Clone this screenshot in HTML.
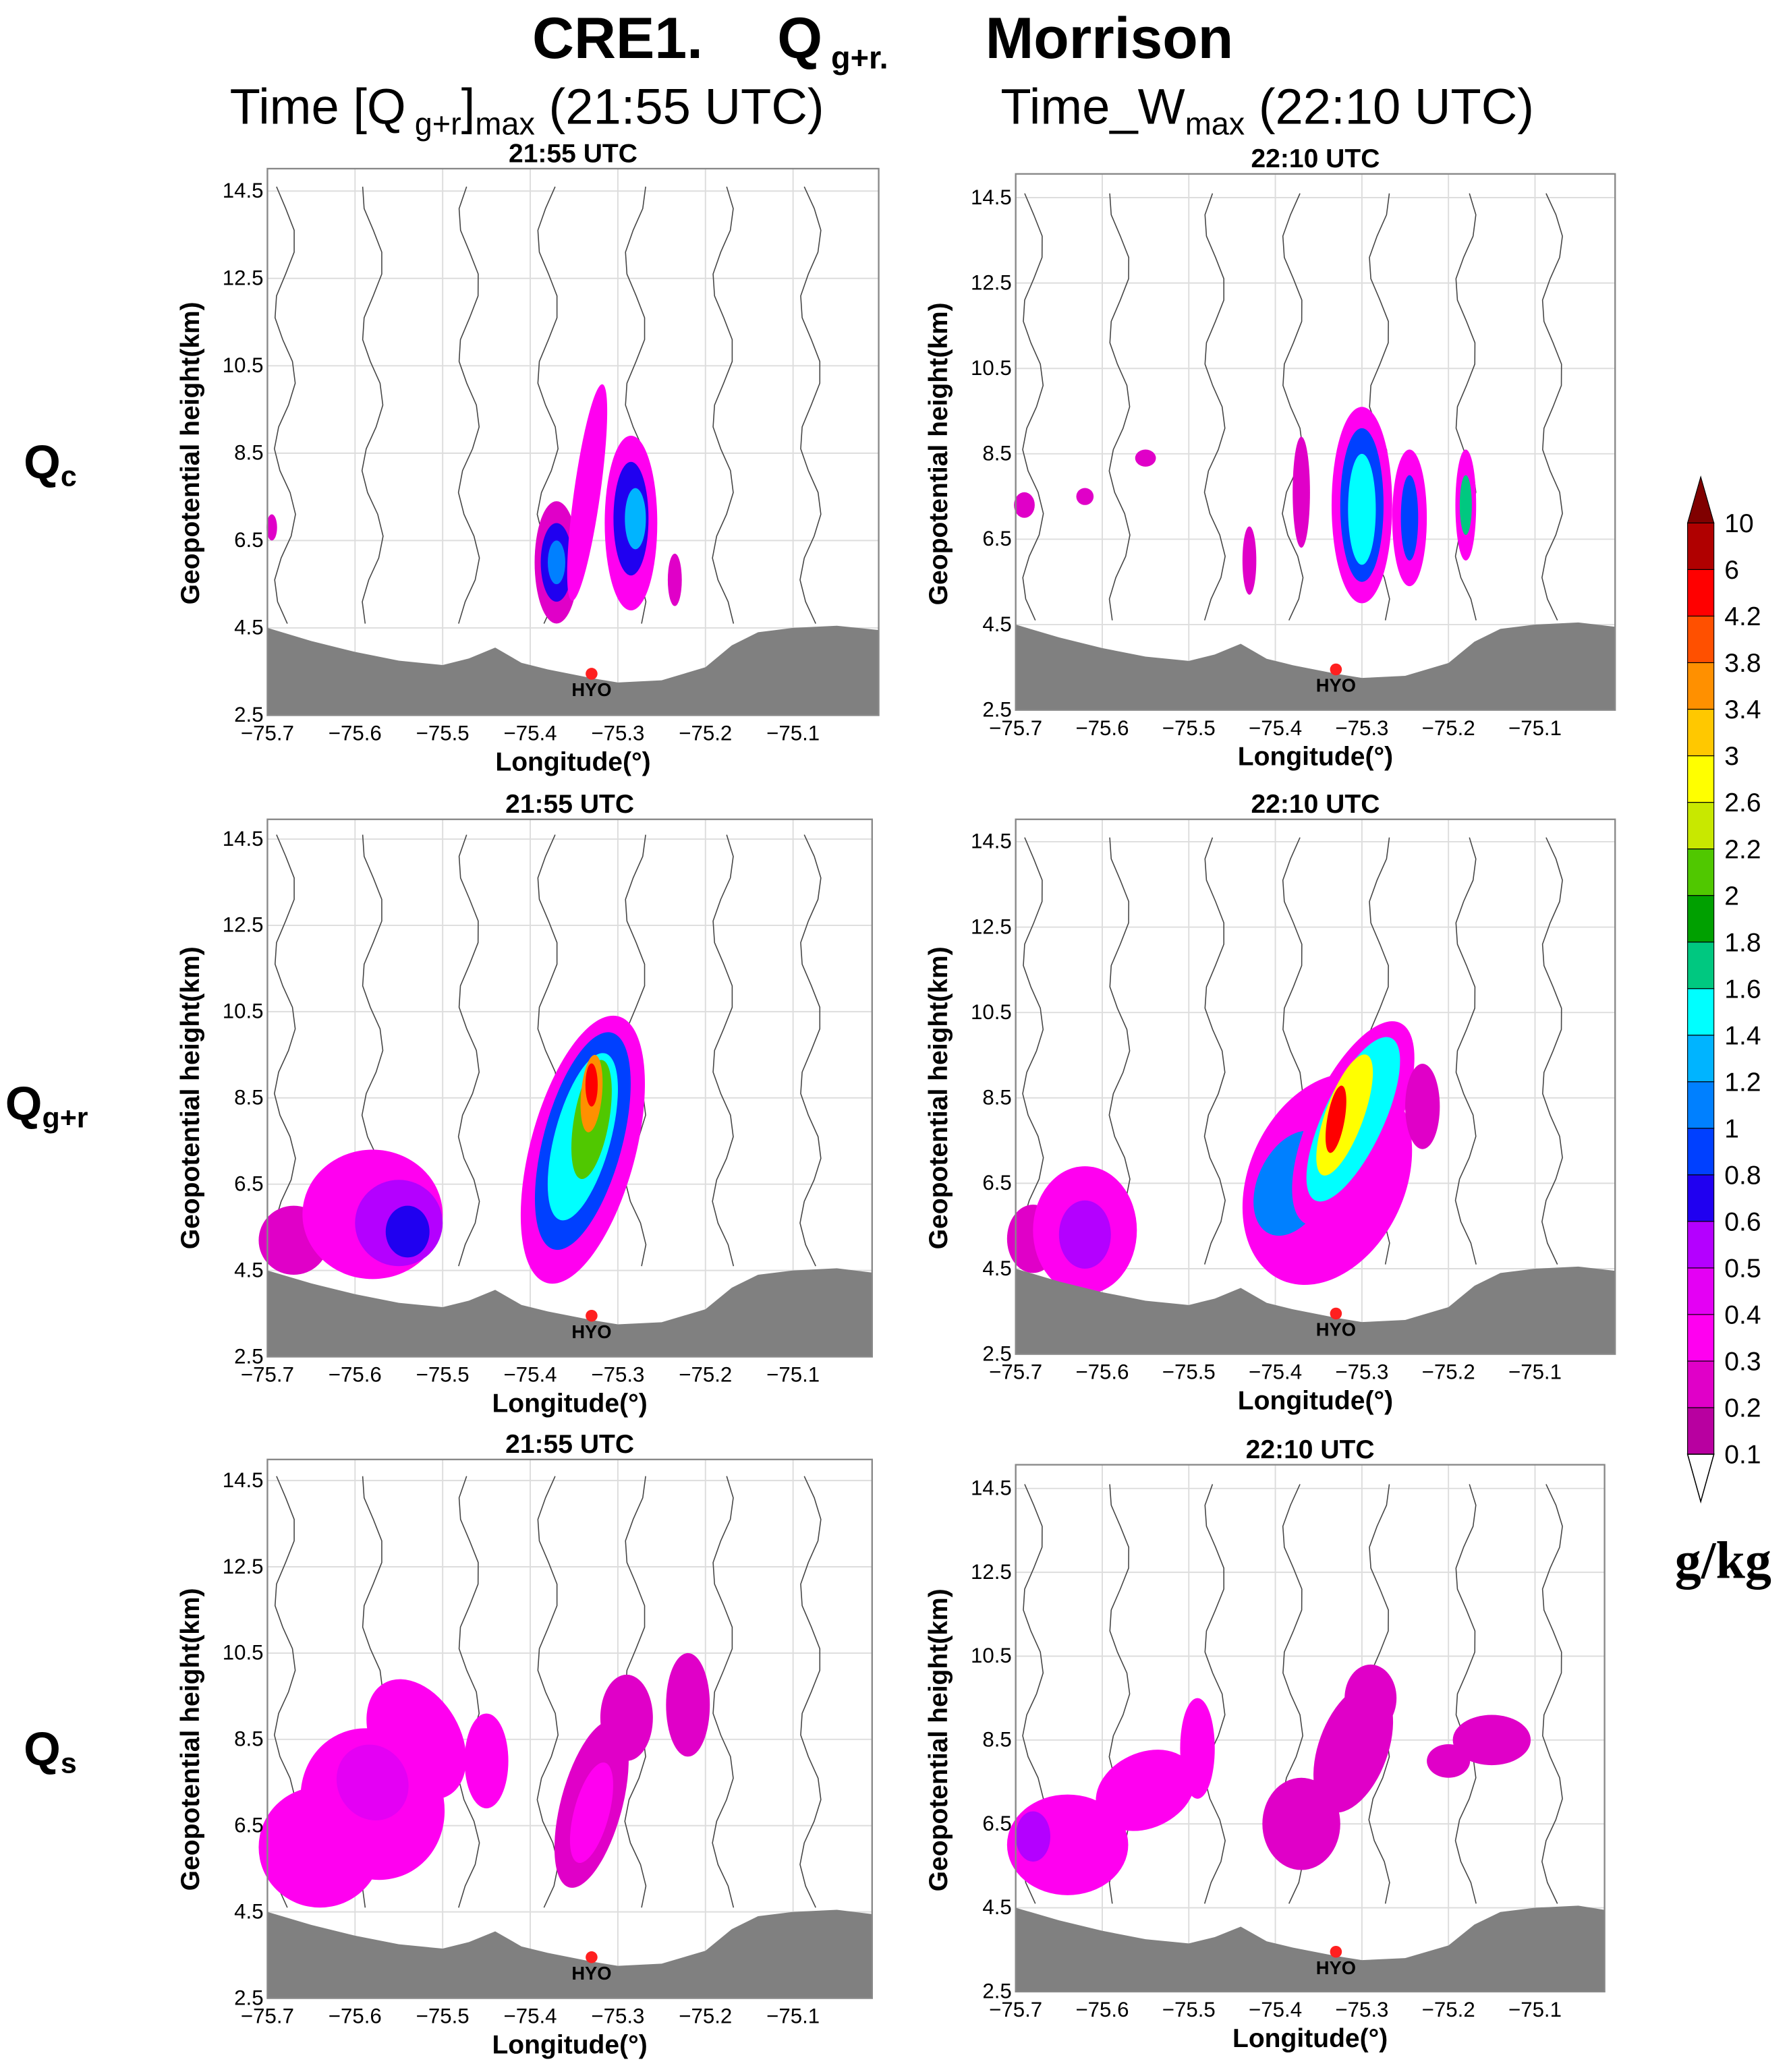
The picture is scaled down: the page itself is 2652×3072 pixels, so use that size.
<!DOCTYPE html>
<html><head><meta charset="utf-8"><style>
html,body{margin:0;padding:0;background:#fff;}
svg{display:block;}
text{font-family:"Liberation Sans",sans-serif;white-space:pre;}
</style></head><body>
<svg id="fig" xmlns="http://www.w3.org/2000/svg" width="2652" height="3072" viewBox="0 0 1358 1573">
<text x="404" y="44" font-size="44" font-weight="bold">CRE1.</text>
<text x="590" y="44" font-size="44" font-weight="bold">Q<tspan font-size="24" dy="8"> g+r.</tspan></text>
<text x="748" y="44" font-size="44" font-weight="bold">Morrison</text>
<text x="400" y="94" text-anchor="middle" font-size="38">Time [Q<tspan font-size="24" dy="8"> g+r</tspan><tspan dy="-8">]</tspan><tspan font-size="24" dy="8">max</tspan><tspan dy="-8"> (21:55 UTC)</tspan></text>
<text x="962" y="94" text-anchor="middle" font-size="38">Time_W<tspan font-size="24" dy="8">max</tspan><tspan dy="-8"> (22:10 UTC)</tspan></text>
<text x="18" y="363" font-size="36" font-weight="bold">Q<tspan font-size="22" dy="6">c</tspan></text>
<text x="4" y="850" font-size="36" font-weight="bold">Q<tspan font-size="22" dy="6">g+r</tspan></text>
<text x="18" y="1340" font-size="36" font-weight="bold">Q<tspan font-size="22" dy="6">s</tspan></text>
<text x="1308" y="1198" text-anchor="middle" font-size="40" font-weight="bold" style="font-family:'Liberation Serif',serif">g/kg</text>
<g id="panels"></g>
<g id="cbar"></g>
</svg>
<script>
const NS="http://www.w3.org/2000/svg";
const levels=["0.1","0.2","0.3","0.4","0.5","0.6","0.8","1","1.2","1.4","1.6","1.8","2","2.2","2.6","3","3.4","3.8","4.2","6","10"];
const colors=["#b800a0","#e000c8","#ff00f0","#e400f4","#b400ff","#2000f0","#0040ff","#0080ff","#00b4ff","#00ffff","#00c880","#00a000","#50c800","#c8e800","#ffff00","#ffc800","#ff9000","#ff5000","#ff0000","#b00000"];
const lonTicks=[-75.7,-75.6,-75.5,-75.4,-75.3,-75.2,-75.1];
const hTicks=[2.5,4.5,6.5,8.5,10.5,12.5,14.5];
const terrainLon=[-75.7,-75.65,-75.6,-75.55,-75.5,-75.47,-75.44,-75.41,-75.38,-75.33,-75.3,-75.25,-75.2,-75.17,-75.14,-75.1,-75.05,-75.0];
const terrainH=[4.5,4.2,3.95,3.75,3.65,3.8,4.05,3.7,3.55,3.35,3.25,3.3,3.6,4.1,4.4,4.5,4.55,4.45];
// blobs: [lon, height, halfWidthLon, halfHeightKm, colorIndex, rotationDeg]
const blobsP1=[[-75.695,6.8,0.006,0.3,1,0],[-75.37,6.0,0.025,1.4,1,0],[-75.37,6.0,0.018,0.9,5,0],[-75.37,6.0,0.01,0.5,7,0],[-75.335,7.6,0.015,2.5,2,8],[-75.285,6.9,0.03,2.0,2,0],[-75.285,7.0,0.02,1.3,5,0],[-75.28,7.0,0.012,0.7,8,0],[-75.235,5.6,0.008,0.6,1,0]];
const blobsP2=[[-75.69,7.3,0.012,0.3,1,0],[-75.62,7.5,0.01,0.2,1,0],[-75.55,8.4,0.012,0.2,1,0],[-75.43,6.0,0.008,0.8,1,0],[-75.37,7.6,0.01,1.3,1,0],[-75.3,7.3,0.035,2.3,2,0],[-75.3,7.3,0.025,1.8,6,0],[-75.3,7.2,0.016,1.3,9,0],[-75.245,7.0,0.02,1.6,2,0],[-75.245,7.0,0.01,1.0,6,0],[-75.18,7.3,0.012,1.3,2,0],[-75.18,7.3,0.007,0.7,10,0]];
const blobsP3=[[-75.67,5.2,0.04,0.8,1,0],[-75.58,5.8,0.08,1.5,2,0],[-75.55,5.6,0.05,1.0,4,0],[-75.54,5.4,0.025,0.6,5,0],[-75.34,7.3,0.06,3.2,2,15],[-75.34,7.5,0.045,2.6,6,15],[-75.34,7.6,0.032,2.0,9,15],[-75.33,8.0,0.02,1.4,12,10],[-75.33,8.6,0.012,0.9,16,5],[-75.33,8.8,0.007,0.5,18,0]];
const blobsP4=[[-75.68,5.2,0.03,0.8,1,0],[-75.62,5.4,0.06,1.5,2,0],[-75.62,5.3,0.03,0.8,4,0],[-75.34,6.6,0.09,2.6,2,25],[-75.38,6.5,0.04,1.3,7,25],[-75.31,7.9,0.05,2.6,2,25],[-75.31,8.0,0.035,2.1,9,25],[-75.32,8.1,0.022,1.5,14,20],[-75.33,8.0,0.01,0.8,18,10],[-75.23,8.3,0.02,1.0,1,0]];
const blobsP5=[[-75.64,6.0,0.07,1.4,2,0],[-75.58,7.0,0.08,1.8,2,-30],[-75.53,8.5,0.05,1.5,2,-30],[-75.45,8.0,0.025,1.1,2,0],[-75.58,7.5,0.04,0.9,3,-30],[-75.33,7.0,0.035,2.0,1,15],[-75.29,9.0,0.03,1.0,1,0],[-75.22,9.3,0.025,1.2,1,0],[-75.33,6.8,0.02,1.2,2,15]];
const blobsP6=[[-75.64,6.0,0.07,1.2,2,0],[-75.68,6.2,0.02,0.6,4,0],[-75.55,7.3,0.06,0.9,2,-25],[-75.49,8.3,0.02,1.2,2,0],[-75.37,6.5,0.045,1.1,1,0],[-75.31,8.3,0.04,1.6,1,20],[-75.29,9.5,0.03,0.8,1,0],[-75.15,8.5,0.045,0.6,1,0],[-75.2,8.0,0.025,0.4,1,0]];
const contoursX=[-75.68,-75.58,-75.47,-75.38,-75.28,-75.18,-75.08];
const panelDefs=[
 {name:"qc-2155",title:"21:55 UTC",x0:203,x1:667,top:128,y145:145,y25:543,blobs:blobsP1},
 {name:"qc-2210",title:"22:10 UTC",x0:771,x1:1226,top:132,y145:150,y25:539,blobs:blobsP2},
 {name:"qgr-2155",title:"21:55 UTC",x0:203,x1:662,top:622,y145:637,y25:1030,blobs:blobsP3},
 {name:"qgr-2210",title:"22:10 UTC",x0:771,x1:1226,top:622,y145:639,y25:1028,blobs:blobsP4},
 {name:"qs-2155",title:"21:55 UTC",x0:203,x1:662,top:1108,y145:1124,y25:1517,blobs:blobsP5},
 {name:"qs-2210",title:"22:10 UTC",x0:771,x1:1218,top:1112,y145:1130,y25:1512,blobs:blobsP6}];
function mk(tag,attrs,parent){const e=document.createElementNS(NS,tag);for(const k in attrs)e.setAttribute(k,attrs[k]);parent.appendChild(e);return e;}
const root=document.getElementById('panels');
panelDefs.forEach(p=>{
 const g=mk('g',{},root);
 
 
 const dx=p.x0>700?65.7:66.5;
 const X=lon=>p.x0+(lon+75.7)*10*dx;
 const Y=h=>p.y25-(h-2.5)*(p.y25-p.y145)/12;
 mk('rect',{x:p.x0,y:p.top,width:p.x1-p.x0,height:p.y25-p.top,fill:'#fff'},g);
 lonTicks.forEach(l=>mk('line',{x1:X(l),x2:X(l),y1:p.top,y2:p.y25,stroke:'#ddd','stroke-width':1},g));
 hTicks.forEach(h=>mk('line',{x1:p.x0,x2:p.x1,y1:Y(h),y2:Y(h),stroke:'#ddd','stroke-width':1},g));
 contoursX.forEach((c,i)=>{let d='';for(let h=4.6;h<=14.6;h+=0.5){const w=0.012*Math.sin(h*2+i);d+=(d?'L':'M')+X(c+w).toFixed(1)+','+Y(h).toFixed(1);}
  const cl=mk('path',{d:d,fill:'none',stroke:'#444','stroke-width':0.8},g);
  
  });
 p.blobs.forEach(b=>{const e=mk('ellipse',{cx:X(b[0]),cy:Y(b[1]),rx:b[2]*10*dx,ry:b[3]*(p.y25-p.y145)/12,fill:colors[b[4]],transform:`rotate(${b[5]} ${X(b[0])} ${Y(b[1])})`},g);
  
  });
 let td='M'+X(terrainLon[0])+','+p.y25;terrainLon.forEach((l,i)=>{td+='L'+Math.min(X(l),p.x1)+','+Y(terrainH[i]);});td+='L'+p.x1+','+p.y25+'Z';
 const t=mk('path',{d:td,fill:'#808080'},g);
 
 
 const st=mk('circle',{cx:X(-75.33),cy:Y(3.45),r:4.5,fill:'#ff2020'},g);
 
 
 const sl=mk('text',{x:X(-75.33),y:Y(3.45)+17,'text-anchor':'middle','font-size':14,'font-weight':'bold'},g);sl.textContent='HYO';
 
 
 mk('rect',{x:p.x0,y:p.top,width:p.x1-p.x0,height:p.y25-p.top,fill:'none',stroke:'#888','stroke-width':1.2},g);
 const tt=mk('text',{x:(p.x0+p.x1)/2,y:p.top-5,'text-anchor':'middle','font-size':20,'font-weight':'bold'},g);tt.textContent=p.title;
 
 
 lonTicks.forEach(l=>{const tx=mk('text',{x:X(l),y:p.y25+19,'text-anchor':'middle','font-size':16},g);tx.textContent='\u2212'+(-l).toFixed(1);
  
  });
 hTicks.forEach(h=>{const ty=mk('text',{x:p.x0-3,y:Y(h)+5,'text-anchor':'end','font-size':16},g);ty.textContent=h.toFixed(1);
  
  });
 const xl=mk('text',{x:(p.x0+p.x1)/2,y:p.y25+42,'text-anchor':'middle','font-size':20,'font-weight':'bold'},g);xl.textContent='Longitude(°)';
 
 
 const yc=(p.y145+p.y25)/2;
 const yl=mk('text',{x:p.x0-52,y:yc,'text-anchor':'middle','font-size':20,'font-weight':'bold',transform:`rotate(-90 ${p.x0-52} ${yc})`},g);yl.textContent='Geopotential height(km)';
 
 
});
const cb=document.getElementById('cbar');
const cx0=1281,cw=20,ctop=397,cstep=35.35;
colors.forEach((c,i)=>{const y=ctop+(colors.length-1-i)*cstep;
 const r=mk('rect',{x:cx0,y:y,width:cw,height:cstep,fill:c,stroke:'#000','stroke-width':0.6},cb);
 
 });
const up=mk('path',{d:`M${cx0},${ctop}L${cx0+cw/2},362L${cx0+cw},${ctop}Z`,fill:'#800000',stroke:'#000','stroke-width':0.6},cb);


const lo=mk('path',{d:`M${cx0},${ctop+20*cstep}L${cx0+cw/2},1140L${cx0+cw},${ctop+20*cstep}Z`,fill:'#fff',stroke:'#000','stroke-width':0.8},cb);


levels.forEach((l,i)=>{const y=ctop+(levels.length-1-i)*cstep;
 const tx=mk('text',{x:1309,y:y+7,'font-size':20},cb);tx.textContent=l;
 
 });
</script>
</body></html>
